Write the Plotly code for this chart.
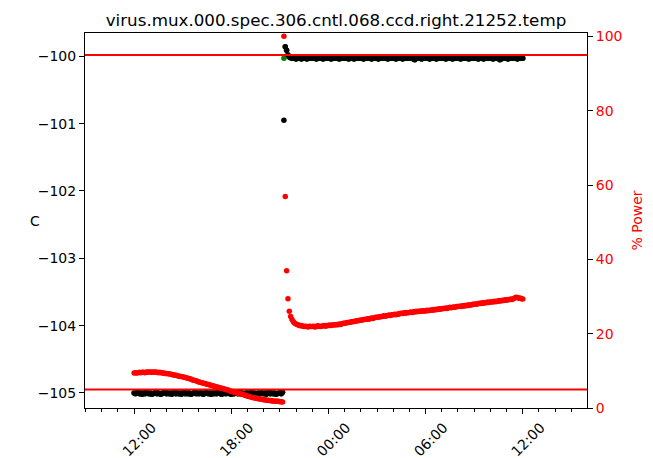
import pandas as pd
import plotly.graph_objects as go

# ---- data -------------------------------------------------------------
title_text = "virus.mux.000.spec.306.cntl.068.ccd.right.21252.temp"
t_start = "2020-02-10 12:00"
n_points = 289  # 5-minute samples, 12:00 -> 12:00 next day
times = pd.date_range(t_start, periods=n_points, freq="5min")

# temperature (C), before the set-point change (12:00 - 21:10)
temp_before = [
    -105.00, -105.01, -105.00, -104.99, -105.01, -105.00, -105.02, -105.00, -105.01, -104.99, -105.00, -105.01,
    -105.00, -105.02, -105.01, -105.00, -104.99, -105.01, -105.00, -105.01, -105.02, -105.00, -105.00, -104.99,
    -105.01, -105.00, -105.01, -105.00, -105.02, -105.00, -104.99, -105.01, -105.00, -105.01, -105.00, -105.02,
    -105.00, -104.99, -105.01, -105.00, -105.01, -105.00, -105.02, -105.01, -105.00, -104.99, -105.01, -105.00,
    -105.01, -105.00, -105.00, -105.02, -105.01, -104.99, -105.00, -105.01, -105.00, -105.02, -105.00, -105.01,
    -105.00, -105.01, -104.99, -105.00, -105.01, -105.02, -105.00, -105.00, -105.01, -105.00, -104.99, -105.01,
    -105.02, -105.00, -105.01, -105.00, -105.00, -105.01, -104.99, -105.01, -105.00, -105.02, -105.01, -105.00,
    -105.00, -105.01, -105.00, -104.99, -105.01, -105.00, -105.01, -105.02, -105.00, -105.01, -105.00, -105.00,
    -105.01, -105.00, -105.02, -105.00, -104.99, -105.01, -105.00, -105.01, -105.00, -105.02, -105.01, -105.00,
    -105.00, -105.01, -104.99,
]
# temperature (C), after the set-point change (21:15 - 12:00)
temp_after = [
    -100.95, -99.86, -99.91, -99.98, -100.01, -100.02, -100.03, -100.02, -100.03,
    -100.04, -100.03, -100.02, -100.03, -100.04, -100.03, -100.02, -100.03, -100.04, -100.03, -100.03, -100.02,
    -100.03, -100.02, -100.03, -100.04, -100.03, -100.02, -100.03, -100.03, -100.04, -100.02, -100.03, -100.03,
    -100.02, -100.03, -100.04, -100.03, -100.02, -100.03, -100.03, -100.02, -100.04, -100.03, -100.03, -100.02,
    -100.03, -100.03, -100.02, -100.04, -100.03, -100.02, -100.03, -100.04, -100.03, -100.02, -100.03, -100.03,
    -100.02, -100.03, -100.04, -100.03, -100.03, -100.02, -100.03, -100.02, -100.04, -100.03, -100.03, -100.02,
    -100.03, -100.04, -100.03, -100.02, -100.03, -100.03, -100.02, -100.03, -100.04, -100.03, -100.02, -100.03,
    -100.03, -100.02, -100.04, -100.03, -100.03, -100.02, -100.03, -100.04, -100.03, -100.03, -100.02, -100.03,
    -100.02, -100.03, -100.03, -100.04, -100.05, -100.03, -100.02, -100.03, -100.03, -100.04, -100.03, -100.02,
    -100.03, -100.02, -100.03, -100.04, -100.03, -100.03, -100.02, -100.03, -100.04, -100.03, -100.02, -100.03,
    -100.03, -100.02, -100.03, -100.04, -100.03, -100.02, -100.03, -100.03, -100.04, -100.02, -100.03, -100.03,
    -100.02, -100.03, -100.04, -100.03, -100.02, -100.03, -100.03, -100.02, -100.04, -100.03, -100.03, -100.02,
    -100.03, -100.03, -100.02, -100.04, -100.03, -100.02, -100.03, -100.04, -100.03, -100.02, -100.03, -100.03,
    -100.02, -100.03, -100.04, -100.03, -100.03, -100.02, -100.03, -100.05, -100.04, -100.03, -100.03, -100.02,
    -100.03, -100.04, -100.03, -100.02, -100.03, -100.03, -100.02, -100.03, -100.04, -100.03, -100.02, -100.03,
    -100.03,
]
# second sensor reading at the set-point change (otherwise identical, hidden under black)
ctrl_at_change = -100.03

# heater power (%), before the change
power_before = [
    9.4, 9.5, 9.4, 9.5, 9.6, 9.5, 9.6, 9.6, 9.5, 9.7, 9.6, 9.7,
    9.7, 9.6, 9.7, 9.6, 9.7, 9.6, 9.5, 9.6, 9.5, 9.4, 9.4, 9.3,
    9.3, 9.2, 9.2, 9.1, 9.0, 8.9, 8.9, 8.8, 8.7, 8.6, 8.5, 8.5,
    8.4, 8.3, 8.2, 8.1, 8.0, 7.9, 7.8, 7.6, 7.5, 7.4, 7.3, 7.1,
    7.0, 6.9, 6.8, 6.7, 6.6, 6.5, 6.4, 6.3, 6.2, 6.1, 6.0, 5.9,
    5.8, 5.7, 5.6, 5.5, 5.4, 5.3, 5.2, 5.1, 5.0, 4.9, 4.8, 4.6,
    4.5, 4.4, 4.3, 4.2, 4.1, 4.0, 3.9, 3.8, 3.7, 3.6, 3.4, 3.3,
    3.2, 3.1, 3.0, 2.9, 2.8, 2.7, 2.7, 2.6, 2.5, 2.4, 2.4, 2.3,
    2.2, 2.2, 2.1, 2.1, 2.0, 2.0, 1.9, 1.9, 1.9, 1.8, 1.8, 1.8,
    1.7, 1.7, 1.6,
]
# heater power (%), after the change
power_after = [
    100.0, 56.9, 36.9, 29.4, 26.0, 24.6, 23.8, 23.2, 22.8,
    22.6, 22.4, 22.3, 22.1, 22.2, 22.0, 21.9, 22.0, 21.9, 21.8, 22.0, 21.9,
    21.9, 22.0, 21.8, 21.9, 22.1, 22.0, 21.9, 22.0, 22.1, 22.2, 22.0, 22.2,
    22.2, 22.3, 22.2, 22.3, 22.4, 22.3, 22.5, 22.4, 22.6, 22.5, 22.7, 22.8,
    22.8, 22.9, 23.0, 23.0, 23.1, 23.2, 23.2, 23.3, 23.4, 23.4, 23.5, 23.6,
    23.6, 23.7, 23.8, 23.8, 23.9, 24.0, 23.9, 24.1, 24.2, 24.1, 24.3, 24.4,
    24.4, 24.5, 24.5, 24.6, 24.6, 24.8, 24.7, 24.8, 24.9, 25.0, 24.9, 25.1,
    25.1, 25.2, 25.1, 25.3, 25.2, 25.4, 25.5, 25.4, 25.6, 25.5, 25.7, 25.6,
    25.7, 25.8, 25.7, 25.9, 25.8, 26.0, 25.9, 26.0, 26.1, 26.0, 26.2, 26.1,
    26.1, 26.3, 26.2, 26.3, 26.4, 26.3, 26.5, 26.4, 26.6, 26.5, 26.7, 26.6,
    26.7, 26.8, 26.8, 26.9, 26.8, 27.0, 27.1, 27.0, 27.1, 27.2, 27.1, 27.3,
    27.3, 27.4, 27.3, 27.5, 27.4, 27.6, 27.5, 27.7, 27.6, 27.8, 27.7, 27.9,
    27.9, 28.0, 27.9, 28.1, 28.2, 28.1, 28.3, 28.2, 28.4, 28.3, 28.5, 28.4,
    28.5, 28.6, 28.5, 28.7, 28.6, 28.8, 28.7, 28.9, 28.8, 29.0, 28.9, 29.1,
    29.0, 29.2, 29.1, 29.3, 29.2, 29.4, 29.6, 29.8, 29.7, 29.5, 29.6, 29.4,
    29.3,
]
power_limits = [5, 95]

x_range = ["2020-02-10 08:58", "2020-02-11 15:58"]
y_range = [-105.223, -99.654]
y2_range = [0, 100.9]
y_ticks = [-105, -104, -103, -102, -101, -100]
y2_ticks = [0, 20, 40, 60, 80, 100]

# ---- figure -----------------------------------------------------------
temp = temp_before + temp_after
ctrl = list(temp)
ctrl[len(temp_before)] = ctrl_at_change
power = power_before + power_after

FONT = "DejaVu Sans"
MS = 5.5
# the page body adds an 8px offset; size the figure to fill the rest of the window
OFF = 8
W, H = 653 - OFF, 458 - OFF
L, R, T, B = 85 - OFF, 66, 33 - OFF, 50
PW = W - L - R

fig = go.Figure()
fig.add_trace(go.Scatter(x=times, y=ctrl, mode="markers",
                         marker=dict(color="green", size=MS), yaxis="y",
                         showlegend=False, hoverinfo="skip"))
fig.add_trace(go.Scatter(x=times, y=temp, mode="markers",
                         marker=dict(color="black", size=MS), yaxis="y",
                         showlegend=False))
fig.add_trace(go.Scatter(x=times, y=power, mode="markers",
                         marker=dict(color="red", size=MS), yaxis="y2",
                         showlegend=False))

for lim in power_limits:
    fig.add_shape(type="line", xref="paper", x0=0, x1=1, yref="y2", y0=lim, y1=lim,
                  line=dict(color="red", width=2), layer="above")

fig.update_layout(
    width=W, height=H,
    margin=dict(l=L, r=R, t=T, b=B, autoexpand=False),
    paper_bgcolor="white", plot_bgcolor="white",
    font=dict(family=FONT, size=14, color="black"),
    title=dict(text=title_text, x=0.5, xref="paper", xanchor="center",
               y=1 - 12 / H, yanchor="middle", font=dict(size=16.7, color="black")),
    xaxis=dict(type="date", range=x_range, showgrid=False, zeroline=False, automargin=False,
               tick0="2020-02-10 00:00", dtick=6 * 3600 * 1000, tickformat="%H:%M",
               tickangle=-45, ticks="outside", ticklen=5, tickcolor="black",
               ticklabelshift=18, ticklabelstandoff=0,
               minor=dict(dtick=3600 * 1000, ticks="outside", ticklen=3, tickcolor="black", showgrid=False),
               showline=True, linecolor="black", linewidth=1, mirror=True),
    yaxis=dict(range=y_range, tickvals=y_ticks, showgrid=False, zeroline=False, automargin=False,
               ticks="outside", ticklen=5, tickcolor="black",
               showline=True, linecolor="black", linewidth=1),
    yaxis2=dict(range=y2_range, tickvals=y2_ticks, overlaying="y", side="right", automargin=False,
                showgrid=False, zeroline=False, ticks="outside", ticklen=5,
                tickcolor="black", tickfont=dict(color="red"),
                showline=True, linecolor="black", linewidth=1),
)

fig.add_annotation(text="C", xref="paper", yref="paper", x=-(85 - 35) / PW, y=0.5,
                   xanchor="center", yanchor="middle", showarrow=False,
                   font=dict(size=14, color="black"))
fig.add_annotation(text="% Power", xref="paper", yref="paper", x=1 + (636 - 587) / PW, y=0.5,
                   xanchor="center", yanchor="middle", showarrow=False, textangle=-90,
                   font=dict(size=14, color="red"))

fig.write_html("out.html")
